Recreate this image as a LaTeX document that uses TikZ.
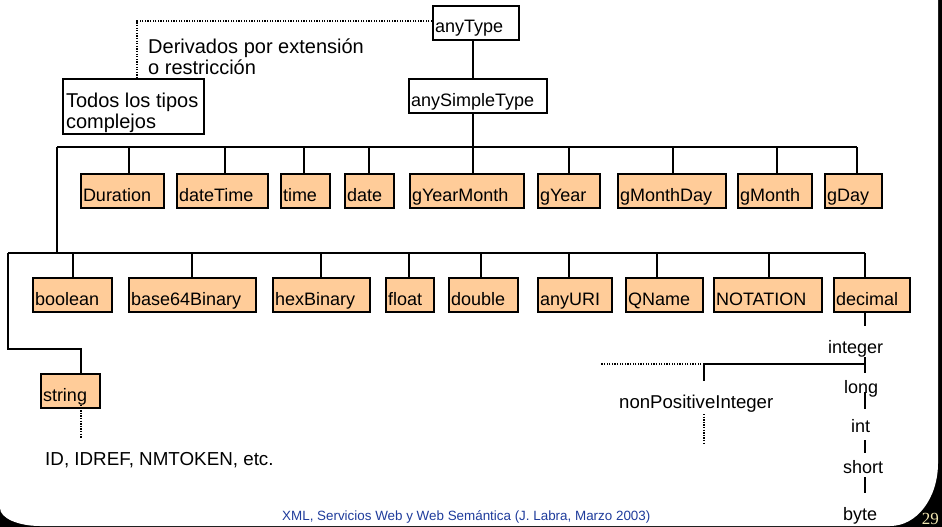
\documentclass[tikz,border=0pt]{standalone}
\usepackage{fontspec}
\setmainfont{Liberation Sans}
\newfontfamily\pgnumfont{Liberation Serif}
\newcommand\diafont{\fontsize{18}{21}\selectfont}
\newcommand\bigdiafont{\fontsize{20}{21}\selectfont}
\definecolor{peach}{HTML}{FFCC99}
\definecolor{footblue}{HTML}{1F3C9C}
\definecolor{numcream}{HTML}{F2E6B0}
\begin{document}
\begin{tikzpicture}[x=1pt,y=-1pt,
  conn/.style={line width=2pt},
  dots/.style={line width=1.4pt, dash pattern=on 1.3pt off 1.3pt},
  tbox/.style={draw, line width=2pt, fill=peach, anchor=north west,
    inner xsep=2pt, inner ysep=0pt, text width=#1, align=left,
    text height=27pt, text depth=7pt, font=\diafont},
  wbox/.style={tbox=#1, fill=white},
  lbl/.style={inner sep=0pt, font=\diafont},
]
\useasboundingbox (0,0) rectangle (942,527);
% slide frame
\fill[black] (0,0) rectangle (942,527);
\fill[white] (0,0) -- (938,0) -- (938,463) .. controls (938,498) and (917,526) .. (890,526)
  -- (40,526) .. controls (18,526) and (0,518) .. (0,508) -- cycle;

% top nodes
\node[wbox=82pt] (anyType) at (432,5) {anyType};
\node[wbox=134pt] (anySimple) at (408,78) {anySimpleType};
\node[draw, line width=2pt, fill=white, anchor=north west, inner sep=0pt,
  minimum width=141pt, minimum height=55pt, text height=28pt, text depth=27pt,
  font=\bigdiafont] (todos) at (62,78) {\parbox[t]{135pt}{Todos los tipos\\complejos}};
\node[lbl, anchor=base west, font=\bigdiafont] (deriv) at (148,53)
  {\parbox[t]{240pt}{Derivados por extensión\\o restricción}};

% row 1
\node[tbox=79pt] (Duration) at (80,173) {Duration};
\node[tbox=87pt] (dateTime) at (176,173) {dateTime};
\node[tbox=45pt] (time) at (280,173) {time};
\node[tbox=45pt] (date) at (344,173) {date};
\node[tbox=110pt] (gYearMonth) at (409,173) {gYearMonth};
\node[tbox=58pt] (gYear) at (537,173) {gYear};
\node[tbox=104pt] (gMonthDay) at (617,173) {gMonthDay};
\node[tbox=70pt] (gMonth) at (737,173) {gMonth};
\node[tbox=53pt] (gDay) at (824,173) {gDay};

% row 2
\node[tbox=75pt] (boolean) at (32,277) {boolean};
\node[tbox=123pt] (base64) at (128,277) {base64Binary};
\node[tbox=93pt] (hexBinary) at (272,277) {hexBinary};
\node[tbox=44pt] (float) at (385,277) {float};
\node[tbox=65pt] (double) at (448,277) {double};
\node[tbox=70pt] (anyURI) at (537,277) {anyURI};
\node[tbox=73pt] (QName) at (625,277) {QName};
\node[tbox=104pt] (NOTATION) at (713,277) {NOTATION};
\node[tbox=72pt] (decimal) at (833,277) {decimal};

% string
\node[tbox=55pt] (string) at (40,373) {string};
\node[lbl, anchor=base west, font=\fontsize{18.8}{21}\selectfont] (idref) at (45,465) {ID, IDREF, NMTOKEN, etc.};

% decimal chain
\node[lbl, anchor=base west] (integer) at (828,353) {integer};
\node[lbl, anchor=base west] (long) at (844,393) {long};
\node[lbl, anchor=base west] (int) at (851,432) {int};
\node[lbl, anchor=base west] (short) at (843,473) {short};
\node[lbl, anchor=base west] (byte) at (843,520) {byte};
\node[lbl, anchor=base west, font=\fontsize{18.6}{21}\selectfont] (nonPos) at (619,408) {nonPositiveInteger};

% footer
\node[inner sep=0pt, anchor=base west, text=footblue, font=\fontsize{13.4}{16}\selectfont]
  (foot) at (282,520) {XML, Servicios Web y Web Semántica (J. Labra, Marzo 2003)};
\node[inner sep=0pt, anchor=base east, text=numcream, font=\pgnumfont\fontsize{17}{20}\selectfont]
  (pg) at (939,524) {29};

% junction coordinates
\coordinate (jA) at (473,147);
\coordinate (bus1L) at (57,147);
\coordinate (bus1R) at (857,147);
\coordinate (bus2L) at (8,253);
\coordinate (bus2R) at (865,253);
\coordinate (jS) at (81,349);
\coordinate (jT) at (137,21);

% anyType -> anySimpleType -> bus
\draw[dots] (anyType.west |- jT) -- (jT) -- (jT |- todos.north);
\draw[conn] (jA |- anyType.south) -- (jA |- anySimple.north);
\draw[conn] (jA |- anySimple.south) -- (jA);
\draw[conn] (bus1L) -- (bus1R);
\foreach \x/\n in {129/Duration,225/dateTime,304/time,369/date,473/gYearMonth,
  569/gYear,673/gMonthDay,777/gMonth,857/gDay}{
  \coordinate (j1) at (\x,147);
  \draw[conn] (j1) -- (j1 |- \n.north);
}
\draw[conn] (bus1L) -- (bus1L |- bus2L);
\draw[conn] (bus2L) -- (bus2R);
\foreach \x/\n in {73/boolean,192/base64,321/hexBinary,409/float,481/double,
  569/anyURI,657/QName,769/NOTATION,865/decimal}{
  \coordinate (j2) at (\x,253);
  \draw[conn] (j2) -- (j2 |- \n.north);
}
\draw[conn] (bus2L) |- (jS) -- (jS |- string.north);
\draw[dots] (jS |- string.south) ++(0,-4) -- ++(0,33);

% decimal chain lines
\coordinate (jD) at (865,364);
\coordinate (jN) at (704,364);
\draw[conn] (jD |- decimal.south) -- ++(0,13);
\draw[conn] (jD) ++(0,-7) -- ++(0,16);
\draw[conn] (jD) -- (jN) -- ++(0,17);
\draw[dots] (jN) -- ++(-103,0);
\draw[dots] (jN |- nonPos.south) ++(0,2) -- ++(0,31);
\draw[conn] (jD |- long.south) ++(0,-5) -- ++(0,17);
\draw[conn] (jD |- int.south) ++(0,8) -- ++(0,13);
\draw[conn] (jD |- short.south) ++(0,4) -- ++(0,16);
\end{tikzpicture}
\end{document}
